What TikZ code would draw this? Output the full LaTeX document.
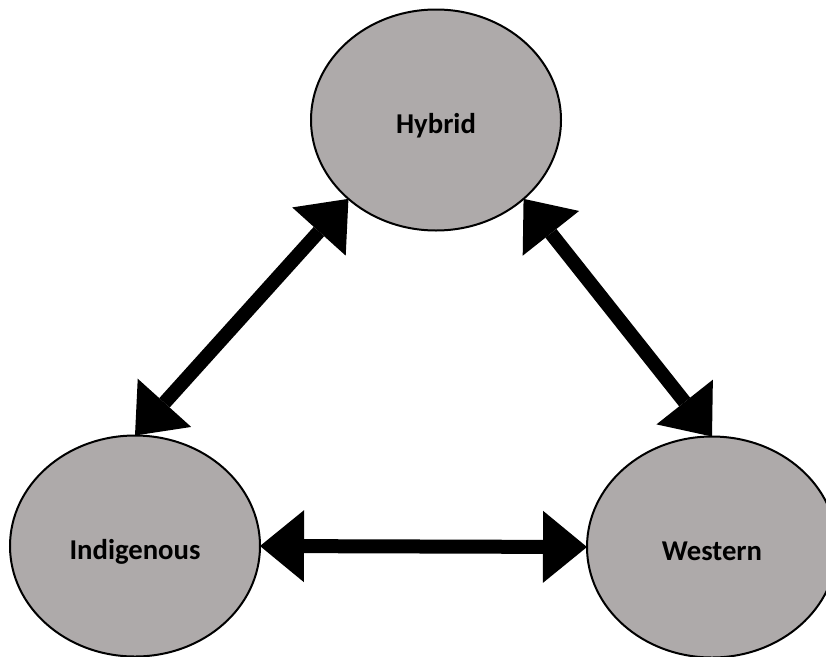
\documentclass[tikz,border=0pt]{standalone}
\usepackage{fontspec}
\setmainfont{Carlito}
\usetikzlibrary{shapes.geometric,arrows.meta}
\definecolor{ovalfill}{RGB}{174,170,170}
\tikzset{
  oval/.style={ellipse, draw=black, line width=2pt, fill=ovalfill, inner sep=0pt, outer sep=0pt,
    minimum width=250pt, minimum height=221pt, text height=27pt, text depth=0pt,
    font=\bfseries\fontsize{28.7}{33}\selectfont},
  bigarrow/.style={line width=14pt,
    {Triangle[length=44pt,width=72pt,line width=0pt]}-{Triangle[length=44pt,width=72pt,line width=0pt]}}
}
\begin{document}
\begin{tikzpicture}[x=1pt,y=-1pt]
\useasboundingbox (0,0) rectangle (826,656);
\clip (0,0) rectangle (826,656);
\node[oval] (hyb) at (436,120) {Hybrid};
\node[oval] (ind) at (135,546) {Indigenous};
\node[oval] (wes) at (712,547) {Western};
\draw[bigarrow] (ind.north) -- (hyb.222);
\draw[bigarrow] (wes.north) -- (hyb.318);
\draw[bigarrow] (ind.east) -- (wes.west);
\end{tikzpicture}
\end{document}
